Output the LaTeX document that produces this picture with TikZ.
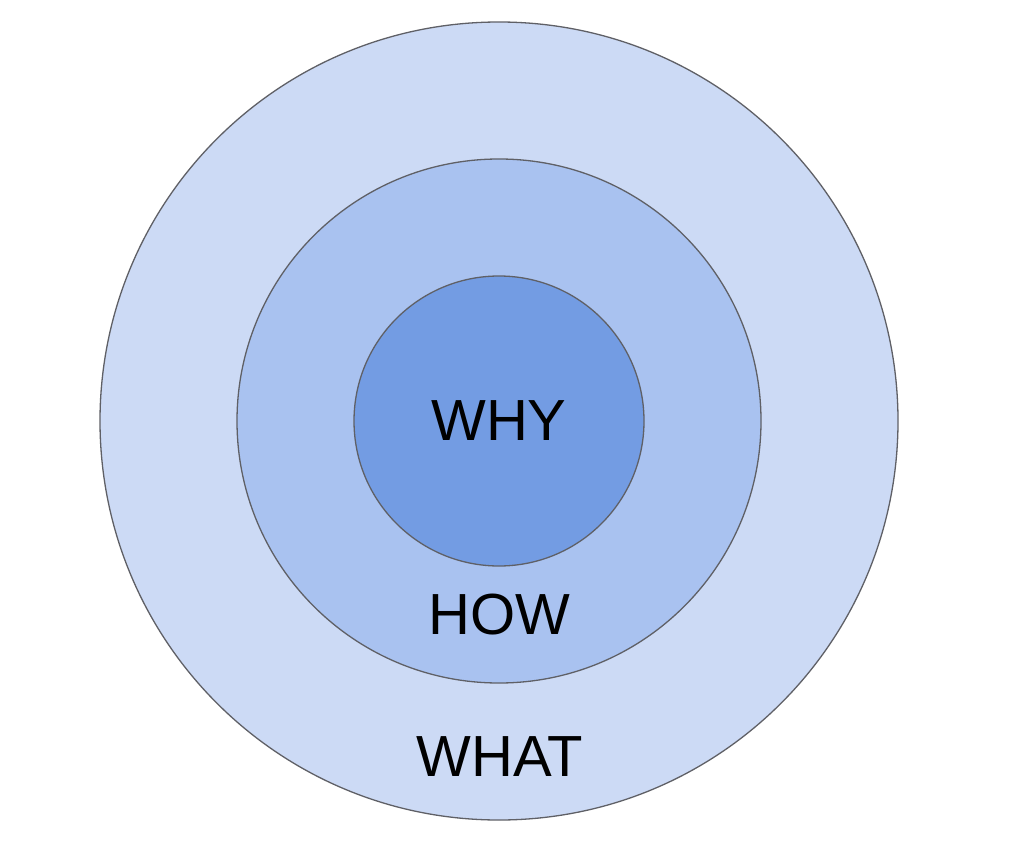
\documentclass[tikz,border=0pt]{standalone}
\usepackage{fontspec}
\setmainfont{Liberation Sans}
\definecolor{outerc}{HTML}{CCDAF5}
\definecolor{midc}{HTML}{A9C2F0}
\definecolor{innerc}{HTML}{739CE3}
\definecolor{edgec}{HTML}{5F6066}
\begin{document}
\begin{tikzpicture}[x=1pt,y=-1pt,
  ring/.style={draw=edgec,line width=1.3pt},
  lbl/.style={inner sep=0pt,font=\fontsize{58}{60}\selectfont,text=black}]
\useasboundingbox (0,0) rectangle (1024,861);
\fill[white] (0,0) rectangle (1024,861);
\coordinate (c) at (499,421);
\draw[ring,fill=outerc] (c) circle[radius=399];
\draw[ring,fill=midc] (c) circle[radius=262];
\draw[ring,fill=innerc] (c) circle[radius=145];
\node[lbl] (why) at (499,421) {WHY};
\node[lbl] (how) at (499,615) {HOW};
\node[lbl] (what) at (500,756.5) {WHAT};
\end{tikzpicture}
\end{document}
